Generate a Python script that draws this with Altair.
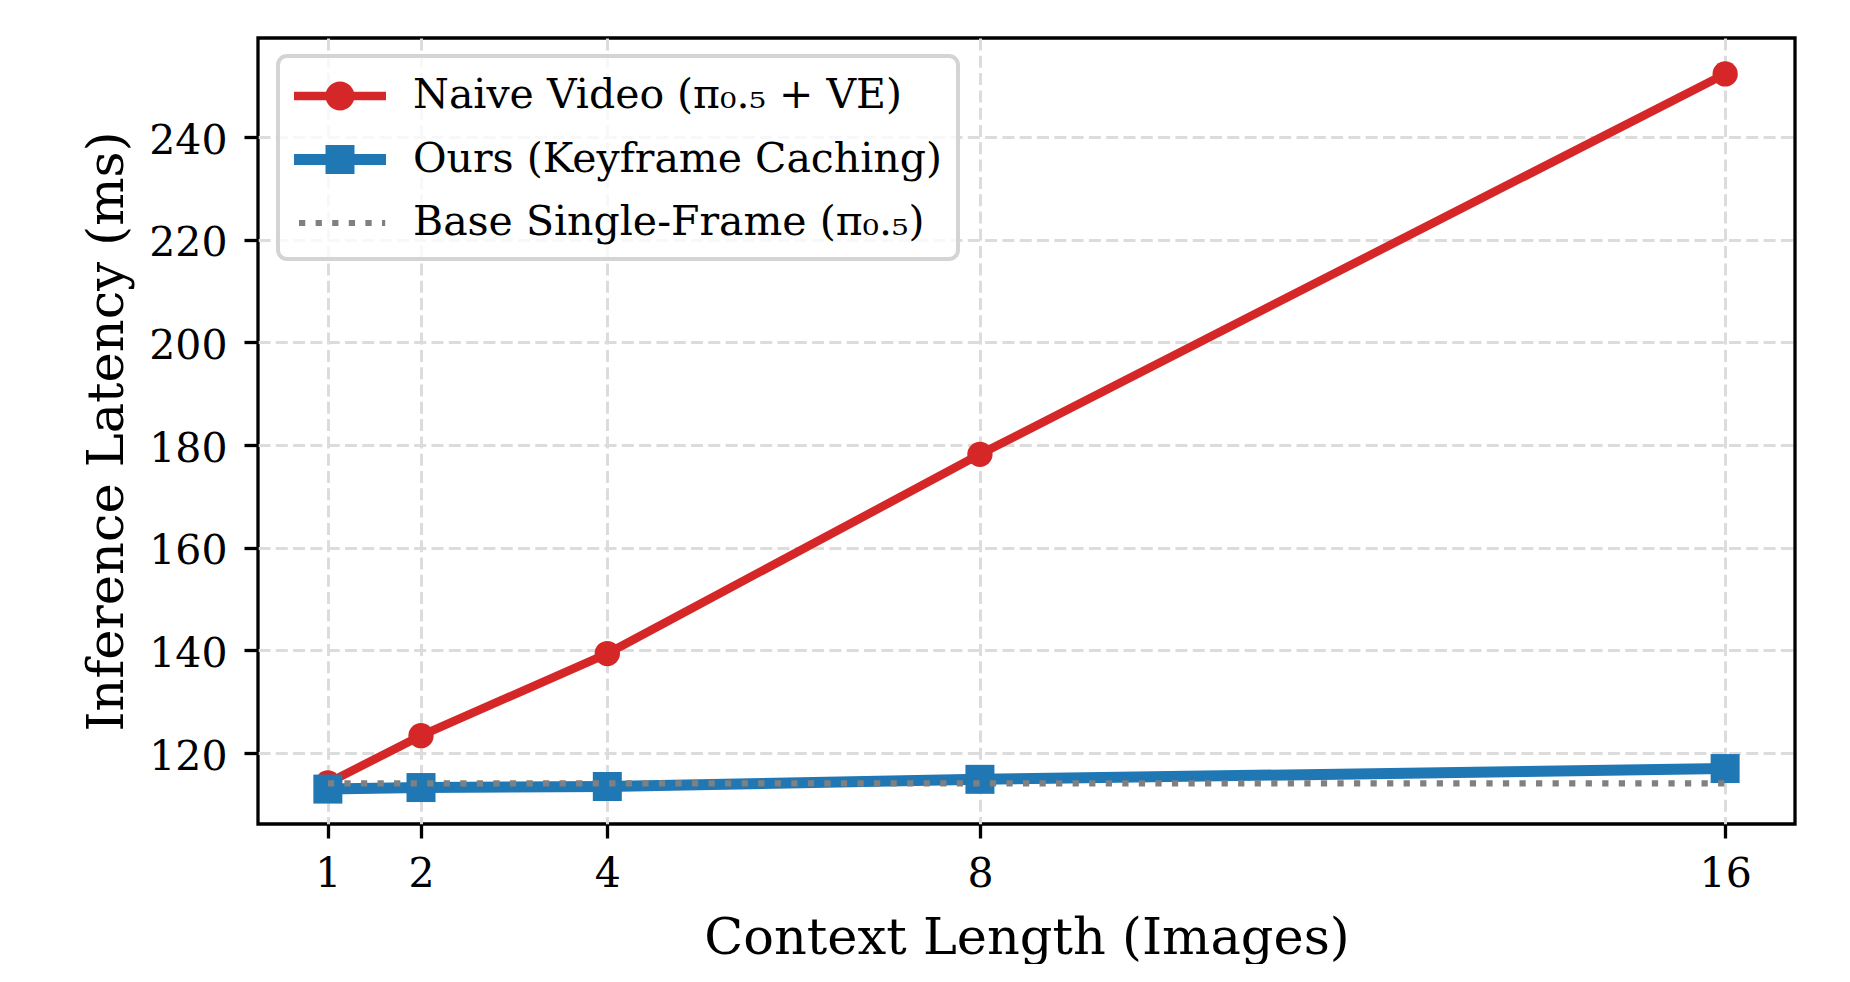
import altair as alt
import pandas as pd

# ---- data ----
context = [1, 2, 4, 8, 16]
naive_latency = [114.2, 123.4, 139.4, 178.2, 252.3]
ours_latency = [113.0, 113.3, 113.5, 114.9, 117.0]
base_latency = [114.1, 114.1, 114.1, 114.1, 114.1]

series_names = [
    "Naive Video (π₀.₅ + VE)",
    "Ours (Keyframe Caching)",
    "Base Single-Frame (π₀.₅)",
]
series_colors = ["#d62728", "#1f77b4", "#808080"]

x_ticks = [1, 2, 4, 8, 16]
y_ticks = [120, 140, 160, 180, 200, 220, 240]

rows = []
for name, vals in zip(series_names, [naive_latency, ours_latency, base_latency]):
    for c, v in zip(context, vals):
        rows.append({"context": c, "latency": v, "series": name})
df = pd.DataFrame(rows)

# ---- legend symbols (line + marker glyphs as custom paths) ----
legend_paths = [
    "M-1.917,-0.1725H1.917V0.1725H-1.917Z "
    "M-0.604,0A0.604,0.604 0 0,1 0.604,0A0.604,0.604 0 0,1 -0.604,0Z",
    "M-1.917,-0.23H1.917V0.23H-1.917Z M-0.604,-0.604H0.604V0.604H-0.604Z",
    "M-1.708,-0.13h0.261v0.26h-0.261Z M-1.016,-0.13h0.261v0.26h-0.261Z "
    "M-0.326,-0.13h0.261v0.26h-0.261Z M0.366,-0.13h0.261v0.26h-0.261Z "
    "M1.058,-0.13h0.261v0.26h-0.261Z M1.750,-0.13h0.134v0.26h-0.134Z",
]

FONT = "DejaVu Serif"

x_enc = alt.X(
    "context:Q",
    scale=alt.Scale(domain=[0.25, 16.75], nice=False, zero=False),
    axis=alt.Axis(
        values=x_ticks,
        title="Context Length (Images)",
        format="d",
        labelPadding=16,
        titleX=768.5,
        titleY=129,
        titleBaseline="alphabetic",
        titleAlign="center",
    ),
)
y_enc = alt.Y(
    "latency:Q",
    scale=alt.Scale(domain=[106.2, 259.3], nice=False, zero=False),
    axis=alt.Axis(
        values=y_ticks,
        title="Inference Latency (ms)",
        format="d",
        labelPadding=17,
        labelOffset=4,
        titleAngle=270,
        titleX=-136,
        titleY=393,
        titleBaseline="alphabetic",
        titleAlign="center",
    ),
)

base = alt.Chart(df)

naive_line = base.transform_filter(alt.datum.series == series_names[0]).mark_line(
    color=series_colors[0], strokeWidth=8.5
).encode(x=x_enc, y=y_enc)
naive_pts = base.transform_filter(alt.datum.series == series_names[0]).mark_circle(
    color=series_colors[0], size=640, opacity=1
).encode(x=x_enc, y=y_enc)

ours_line = base.transform_filter(alt.datum.series == series_names[1]).mark_line(
    color=series_colors[1], strokeWidth=11
).encode(x=x_enc, y=y_enc)
ours_pts = base.transform_filter(alt.datum.series == series_names[1]).mark_square(
    color=series_colors[1], size=841, opacity=1
).encode(x=x_enc, y=y_enc)

base_line = base.transform_filter(alt.datum.series == series_names[2]).mark_line(
    color=series_colors[2], strokeWidth=6.25, strokeDash=[6.25, 10.3], strokeCap="butt"
).encode(x=x_enc, y=y_enc)

legend_cfg = alt.Legend(
    title=None,
    orient="none",
    legendX=20,
    legendY=18,
    symbolSize=2304,
    symbolOffset=22,
    symbolStrokeWidth=0,
    labelFont=FONT,
    labelFontSize=41,
    labelColor="black",
    labelOffset=49,
    labelLimit=1000,
    rowPadding=19.5,
    padding=16,
    fillColor="rgba(255,255,255,0.8)",
    strokeColor="#d4d4d4",
    cornerRadius=9,
)

legend_layer = base.transform_filter("false").mark_point(filled=True, size=2304, opacity=1).encode(
    x=x_enc,
    y=y_enc,
    fill=alt.Fill("series:N", scale=alt.Scale(domain=series_names, range=series_colors), legend=legend_cfg),
    shape=alt.Shape("series:N", scale=alt.Scale(domain=series_names, range=legend_paths), legend=legend_cfg),
)

chart = (
    alt.layer(naive_line, naive_pts, ours_line, ours_pts, base_line, legend_layer)
    .properties(
        width=1537,
        height=786,
        autosize=alt.AutoSizeParams(type="none"),
        padding={"left": 250, "top": 30, "right": 30, "bottom": 140},
        background="white",
    )
    .configure_view(stroke="black", strokeWidth=3.3)
    .configure_axis(
        labelFont=FONT,
        labelFontSize=41,
        labelColor="black",
        titleFont=FONT,
        titleFontSize=51,
        titleFontWeight="normal",
        titleColor="black",
        domain=False,
        tickColor="black",
        tickWidth=3.3,
        tickSize=14,
        grid=True,
        gridColor="#dcdcdc",
        gridDash=[12, 5.3],
        gridWidth=3,
    )
    .configure_legend(strokeWidth=4)
)

chart.save("out.html", embed_options={"renderer": "svg", "actions": False})
